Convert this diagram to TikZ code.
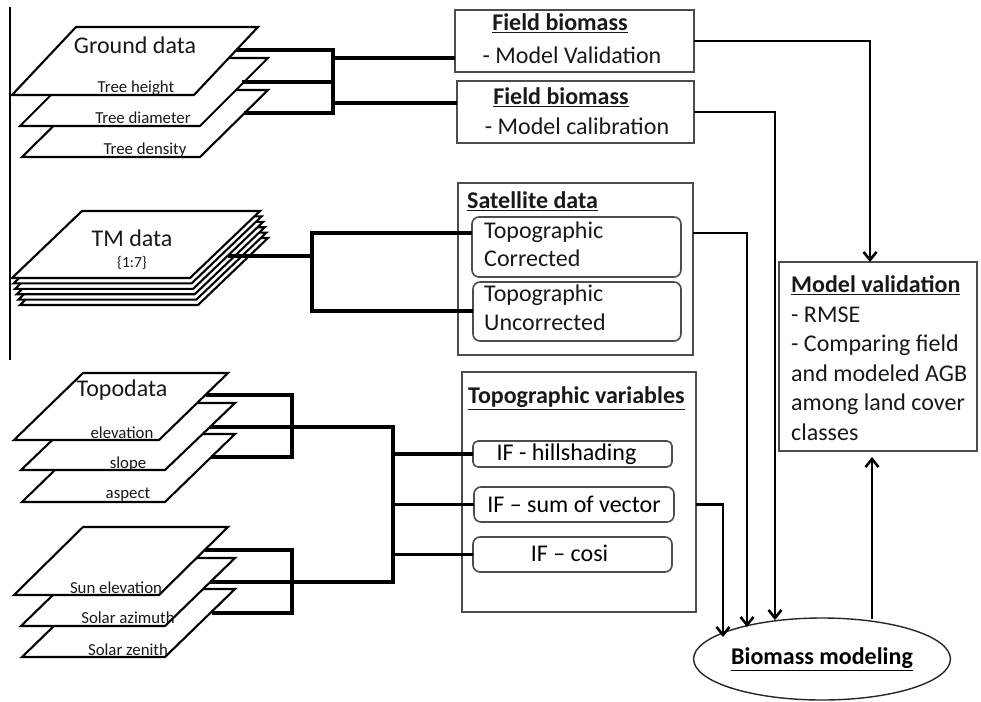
\documentclass[tikz,border=0pt]{standalone}
\usepackage{fontspec}
\setmainfont{Carlito}
\usetikzlibrary{arrows.meta,shapes.geometric}
\newcommand\plate[5]{\filldraw[plate] (#1,#2) -- ++(#3,0) -- ++(#4,-#5) -- ++(-#3,0) -- cycle;}
\begin{document}
\begin{tikzpicture}[x=1pt,y=-1pt,
  plate/.style={draw=black,fill=white,line width=2.1pt,line join=miter},
  conn/.style={draw=black,line width=3.2pt},
  arr/.style={draw=black,line width=2.9pt,-{Straight Barb[length=8pt,width=13pt,line width=2.6pt]}},
  box/.style={draw=black!70,line width=1.6pt,fill=white,inner sep=0pt,outer sep=0pt},
  rbox/.style={box,rounded corners=7pt},
  big/.style={font=\fontsize{24}{29}\selectfont},
  small/.style={font=\fontsize{16.8}{19}\selectfont},
  lbl/.style={inner sep=0pt,text=black!90},
]
\useasboundingbox (0,0) rectangle (981,701);

% left rule
\draw[line width=1.7pt] (10,7) coordinate (rt) -- (10,360) coordinate (rb);

% ---------- Ground data stack ----------
\plate{22}{157}{178}{68}{67}
\plate{20}{126}{180}{68}{68}
\plate{12}{95}{182}{64}{68}
\node[lbl,big]   (gd)  at (135,45)  {Ground data};
\node[lbl,small] (gth) at (136,88)  {Tree height};
\node[lbl,small] (gtd) at (143,118) {Tree diameter};
\node[lbl,small] (gtn) at (145,150) {Tree density};

% ---------- TM data stack ----------
\foreach \i in {5,4,3,2,1,0}{\plate{12+1.6*\i}{278+5.4*\i}{178}{70}{67}}
\node[lbl,big] (tmd) at (132,238) {TM data};
\node[lbl,font=\fontsize{15.5}{18}\selectfont] (tmn) at (132,263) {\{1:7\}};

% ---------- Topodata stack ----------
\plate{22}{502}{143}{70}{68}
\plate{21}{470}{144}{70}{67}
\plate{14}{440}{145}{69}{67}
\node[lbl,big]   (tpd) at (122,390) {Topodata};
\node[lbl,small] (tel) at (122,433) {elevation};
\node[lbl,small] (tsl) at (128,464) {slope};
\node[lbl,small] (tas) at (128,495) {aspect};

% ---------- Sun stack ----------
\plate{22}{657}{143}{70}{68}
\plate{21}{626}{144}{70}{68}
\plate{14}{595}{145}{69}{68}
\node[lbl,small] (sel) at (116,588) {Sun elevation};
\node[lbl,small] (saz) at (128,618) {Solar azimuth};
\node[lbl,small] (sze) at (128,650) {Solar zenith};

% ---------- Boxes ----------
\node[box,minimum width=239pt,minimum height=62pt] (fb1) at (574.5,41) {};
\node[lbl,big] (fb1t) at (560,23) {\textbf{\underline{Field biomass}}};
\node[lbl,big] (fb1s) at (572,55) {- Model Validation};

\node[box,minimum width=237pt,minimum height=62pt] (fb2) at (575.5,112) {};
\node[lbl,big] (fb2t) at (561,97) {\textbf{\underline{Field biomass}}};
\node[lbl,big] (fb2s) at (577,126) {- Model calibration};

\node[box,minimum width=235pt,minimum height=172pt] (sat) at (575.5,269) {};
\node[lbl,big,anchor=west] (satt) at (467,201) {\textbf{\underline{Satellite data}}};
\node[rbox,minimum width=209pt,minimum height=60pt] (tA) at (576.5,247) {};
\node[lbl,big,anchor=west,align=left,font=\fontsize{24}{28}\selectfont] (tAt) at (484,244) {Topographic\\Corrected};
\node[rbox,minimum width=208pt,minimum height=59pt] (tB) at (577,311.5) {};
\node[lbl,big,anchor=west,align=left,font=\fontsize{24}{29}\selectfont] (tBt) at (484,307.5) {Topographic\\Uncorrected};

\node[box,minimum width=234pt,minimum height=240pt] (tv) at (579,492) {};
\node[lbl,big,anchor=west] (tvt) at (468,398) {\textbf{\underline{Topographic variables}}};
\node[rbox,rounded corners=5pt,minimum width=199pt,minimum height=26pt,big] (hill) at (572.5,454) {\raisebox{1pt}{IF - hillshading}\hspace*{12pt}};
\node[rbox,minimum width=200pt,minimum height=35pt,big] (sum) at (574,504.5) {IF -- sum of vector};
\node[rbox,minimum width=199pt,minimum height=35pt,big] (cosi) at (572.5,554.5) {\raisebox{2pt}{IF -- cosi}\hspace*{6pt}};

\node[box,minimum width=198pt,minimum height=189pt] (mv) at (878,356.5) {};
\node[lbl,anchor=west,align=left,font=\fontsize{24}{29.5}\selectfont] (mvt) at (791,358) {\textbf{\underline{Model validation}}\\- RMSE\\- Comparing field\\and modeled AGB\\among land cover\\classes};

\node[ellipse,draw=black!85,line width=1.4pt,fill=white,minimum width=238pt,minimum height=82pt,inner sep=0pt,outer sep=0pt,big] (bm) at (822,659) {\raisebox{2pt}{\textbf{\underline{Biomass modeling}}}};

% ---------- connector coordinates ----------
\coordinate (g1) at (236,50);  \coordinate (gb1) at (333,50);
\coordinate (g2) at (242,82);  \coordinate (gb2) at (333,82);
\coordinate (g3) at (244,113); \coordinate (gb3) at (333,113);
\coordinate (gbA) at (333,58); \coordinate (gbB) at (333,103);

\coordinate (tm) at (228,256); \coordinate (tmb) at (312,256);
\coordinate (tmT) at (312,233); \coordinate (tmB) at (312,311);

\coordinate (t1) at (206,395); \coordinate (tb1) at (292,395);
\coordinate (t2) at (210,427); \coordinate (tj1) at (393,427);
\coordinate (t3) at (211,457); \coordinate (tb3) at (292,457);
\coordinate (s1) at (205,550); \coordinate (sb1) at (292,550);
\coordinate (s2) at (210,582); \coordinate (tj2) at (393,582);
\coordinate (s3) at (212,613); \coordinate (sb3) at (292,613);

\coordinate (mvin) at (870,262);
\coordinate (bmin1) at (723,637);
\coordinate (bmin2) at (747,627);
\coordinate (bmin3) at (775,620);
\coordinate (bmout) at (872,619);

% ---------- connectors ----------
\draw[conn] (g1) -- (gb1) -- (gb3) -- (g3);
\draw[conn] (g2) -- (gb2);
\draw[conn] (gbA) -- (fb1.west |- gbA);
\draw[conn] (gbB) -- (fb2.west |- gbB);

\draw[conn] (tm) -- (tmb);
\draw[conn] (tA.west |- tmT) -- (tmT) -- (tmB) -- (tB.west |- tmB);

\draw[conn] (t1) -- (tb1) -- (tb3) -- (t3);
\draw[conn] (s1) -- (sb1) -- (sb3) -- (s3);
\draw[conn] (t2) -- (tj1) -- (tj2) -- (s2);
\draw[conn] (tj1 |- hill.west) -- (hill.west);
\draw[conn] (tj1 |- sum.west) -- (sum.west);
\draw[conn] (tj1 |- cosi.west) -- (cosi.west);

\draw[arr] (fb1.east) -| (mvin);
\draw[arr] (fb2.east) -| (bmin3);
\draw[arr] (sat.east |- tmT) -| (bmin2);
\draw[arr] (tv.east |- sum.east) -| (bmin1);
\draw[arr] (bmout) -- ([yshift=-6pt]mv.south -| bmout);
\end{tikzpicture}
\end{document}
